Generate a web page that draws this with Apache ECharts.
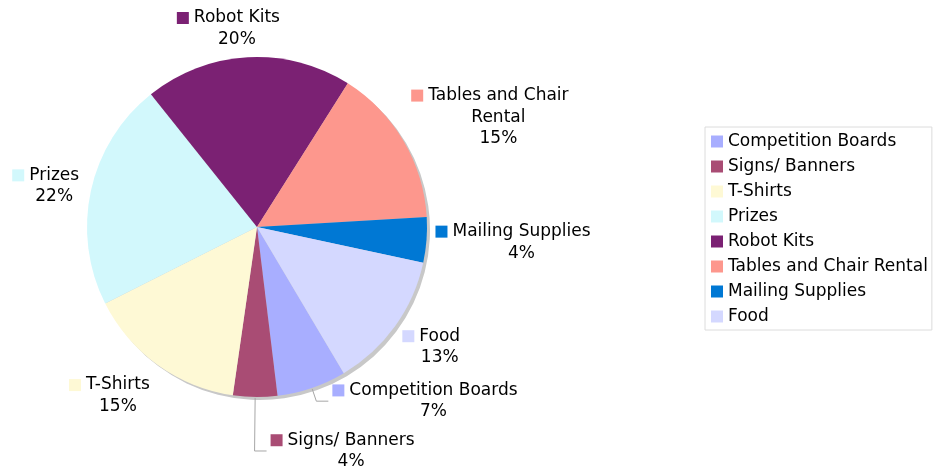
<!DOCTYPE html>
<html>
<head>
<meta charset="utf-8">
<title>Budget breakdown</title>
<script src="https://cdn.jsdelivr.net/npm/echarts@6/dist/echarts.min.js"></script>
<style>
  html, body { margin: 0; padding: 0; background: #ffffff; }
  #chart { width: 933px; height: 469px; }
</style>
</head>
<body>
<div id="chart"></div>
<script>
// Spending categories, in drawing order (clockwise)
const categories = [
  'Competition Boards',
  'Signs/ Banners',
  'T-Shirts',
  'Prizes',
  'Robot Kits',
  'Tables and Chair Rental',
  'Mailing Supplies',
  'Food'
];
// Share of the budget, in percent
const values = [6.6, 4.2, 15.3, 21.7, 19.7, 15.1, 4.3, 13.1];
const colors = ['#a8aeff', '#a94c74', '#fef9d5', '#d2f8fc', '#7b2173', '#fd978d', '#0078d4', '#d4d8ff'];

// Pie geometry
const CX = 257, CY = 227, R = 170;
const START = 59.3;          // first slice edge, degrees clockwise from 3 o'clock
const LABEL_GAP = 9;
const ICON = 12, ICON_GAP = 5;
const PAD = ICON + ICON_GAP; // trailing spacer so the text lines stay centred on the name
const LINE_H = 21.5;
// Labels pulled away from crowded slices get a leader line of this length
const leaderLength = { 'Competition Boards': 13, 'Signs/ Banners': 53 };

const FONT = 'DejaVu Sans, Verdana, sans-serif';
const FONT_SIZE = 17;
const total = values.reduce((a, b) => a + b, 0);

function wrapWords(text, maxChars) {
  const words = text.split(' ');
  const lines = [];
  let cur = '';
  words.forEach(w => {
    const next = cur ? cur + ' ' + w : w;
    if (next.length > maxChars && cur) { lines.push(cur); cur = w; }
    else cur = next;
  });
  if (cur) lines.push(cur);
  return lines;
}

const measureCtx = document.createElement('canvas').getContext('2d');
function textWidth(s) {
  measureCtx.font = FONT_SIZE + 'px ' + FONT;
  return measureCtx.measureText(s).width;
}

function percentText(i) {
  return Math.round(values[i] / total * 100) + '%';
}

// size of a slice label: first line carries the swatch and the trailing spacer
function labelBox(i) {
  const lines = wrapWords(categories[i], 18);
  let w = ICON + ICON_GAP + textWidth(lines[0]) + PAD;
  for (let k = 1; k < lines.length; k++) w = Math.max(w, textWidth(lines[k]));
  w = Math.max(w, textWidth(percentText(i)));
  return { lines: lines, w: w, h: (lines.length + 1) * LINE_H };
}

const rich = {
  t: { fontSize: FONT_SIZE, fontFamily: FONT, color: '#000', lineHeight: LINE_H },
  gap: { width: ICON_GAP },
  pad: { width: PAD }
};
colors.forEach((c, i) => {
  rich['ic' + i] = { width: ICON, height: ICON, backgroundColor: c };
});

function midAngle(i) {
  let before = 0;
  for (let k = 0; k < i; k++) before += values[k];
  return (START + (before + values[i] / 2) / total * 360) * Math.PI / 180;
}

const chart = echarts.init(document.getElementById('chart'), null, { renderer: 'canvas' });

const option = {
  animation: false,
  color: colors,
  legend: {
    orient: 'vertical',
    left: 705,
    top: 127,
    data: categories,
    icon: 'rect',
    itemWidth: 12,
    itemHeight: 12,
    itemGap: 8,
    padding: [6, 4, 5, 6],
    borderColor: '#dcdcdc',
    borderWidth: 1,
    selectedMode: false,
    textStyle: { fontSize: FONT_SIZE, fontFamily: FONT, color: '#000', lineHeight: 17 }
  },
  series: [
    {
      // drop shadow under the pie
      type: 'pie',
      silent: true,
      center: [CX + 3, CY + 3],
      radius: R,
      startAngle: -START,
      label: { show: false },
      labelLine: { show: false },
      emphasis: { disabled: true },
      itemStyle: { color: '#c8c8c8', borderWidth: 0 },
      data: [{ value: total }],
      z: 1
    },
    {
      type: 'pie',
      center: [CX, CY],
      radius: R,
      startAngle: -START,
      clockwise: true,
      avoidLabelOverlap: false,
      emphasis: { disabled: true },
      itemStyle: { borderWidth: 0 },
      label: {
        show: true,
        position: 'outside',
        formatter: function (p) {
          const i = p.dataIndex;
          const lines = wrapWords(p.name, 18);
          let s = '{ic' + i + '|}{gap|}{t|' + lines[0] + '}{pad|}';
          for (let k = 1; k < lines.length; k++) s += '\n{t|' + lines[k] + '}';
          s += '\n{t|' + percentText(i) + '}';
          return s;
        },
        rich: rich
      },
      labelLine: {
        show: true,
        lineStyle: { color: '#a6a6a6', width: 1 }
      },
      labelLayout: function (p) {
        if (p.seriesIndex !== 1) return;
        const i = p.dataIndex;
        const a = midAngle(i);
        const dx = Math.cos(a), dy = Math.sin(a);
        const box = labelBox(i);
        const w = box.w, h = box.h;
        const vw = w - PAD;               // visible width: swatch + name
        const lead = leaderLength[categories[i]];
        if (lead) {
          const ex = CX + dx * (R + 1), ey = CY + dy * (R + 1);
          const bx = ex + dx * lead, by = ey + dy * lead;
          const hx = bx + 12;
          return {
            x: hx + 4 + w / 2, y: by,
            align: 'center', verticalAlign: 'middle',
            labelLinePoints: [[ex, ey], [bx, by], [hx, by]]
          };
        }
        // box sits just outside the rim, pushed away along the slice's middle
        const m = Math.max(Math.abs(dx), Math.abs(dy));
        const sx = Math.sign(dx) * Math.min(1, 1.3 * Math.sqrt(Math.abs(dx)));
        const sy = dy / m;
        const ax = CX + dx * (R + LABEL_GAP), ay = CY + dy * (R + LABEL_GAP);
        return {
          x: ax + sx * vw / 2 + PAD / 2 - (dx < 0 ? 3 : 0),
          y: ay + sy * h / 2 + (dx < 0 ? 2 : 0),
          align: 'center', verticalAlign: 'middle'
        };
      },
      data: categories.map((name, i) => ({
        name: name,
        value: values[i],
        labelLine: { show: !!leaderLength[name] }
      })),
      z: 2
    }
  ]
};

chart.setOption(option);
</script>
</body>
</html>
